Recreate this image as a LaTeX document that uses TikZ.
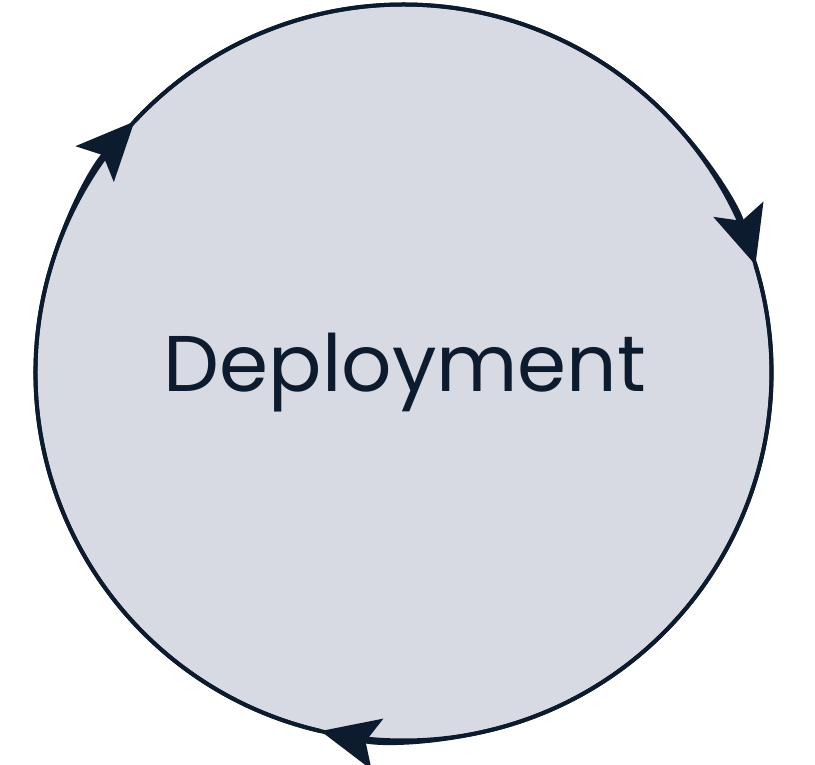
\documentclass[tikz,border=0pt]{standalone}
\usepackage{fontspec}
\setmainfont{Poppins}
\usepackage{xcolor}
\usetikzlibrary{arrows.meta}
\definecolor{navy}{RGB}{13,27,46}
\definecolor{mist}{RGB}{216,218,227}

\begin{document}
\begin{tikzpicture}[x=1pt,y=1pt,
    flow/.style={line width=4pt,navy,-{Stealth[length=58pt,width=52pt,inset=12pt]}}]
        \useasboundingbox (-403.5,-392.5) rectangle (411.5,372.5);
        \node[circle,draw=navy,line width=4pt,fill=mist,minimum size=736pt,inner sep=0pt,outer sep=0pt] (ring) at (0,0) {};
        \node[anchor=base,text=navy,font=\fontsize{79}{88}\selectfont] (label) at (1.5,-19.5) {Deployment};
        \draw[flow] (ring.-103) arc[start angle=-103,end angle=-223,radius=368pt];
        \draw[flow] (ring.137) arc[start angle=137,end angle=17,radius=368pt];
        \draw[flow] (ring.17) arc[start angle=17,end angle=-103,radius=368pt];
    \end{tikzpicture}
\end{document}
